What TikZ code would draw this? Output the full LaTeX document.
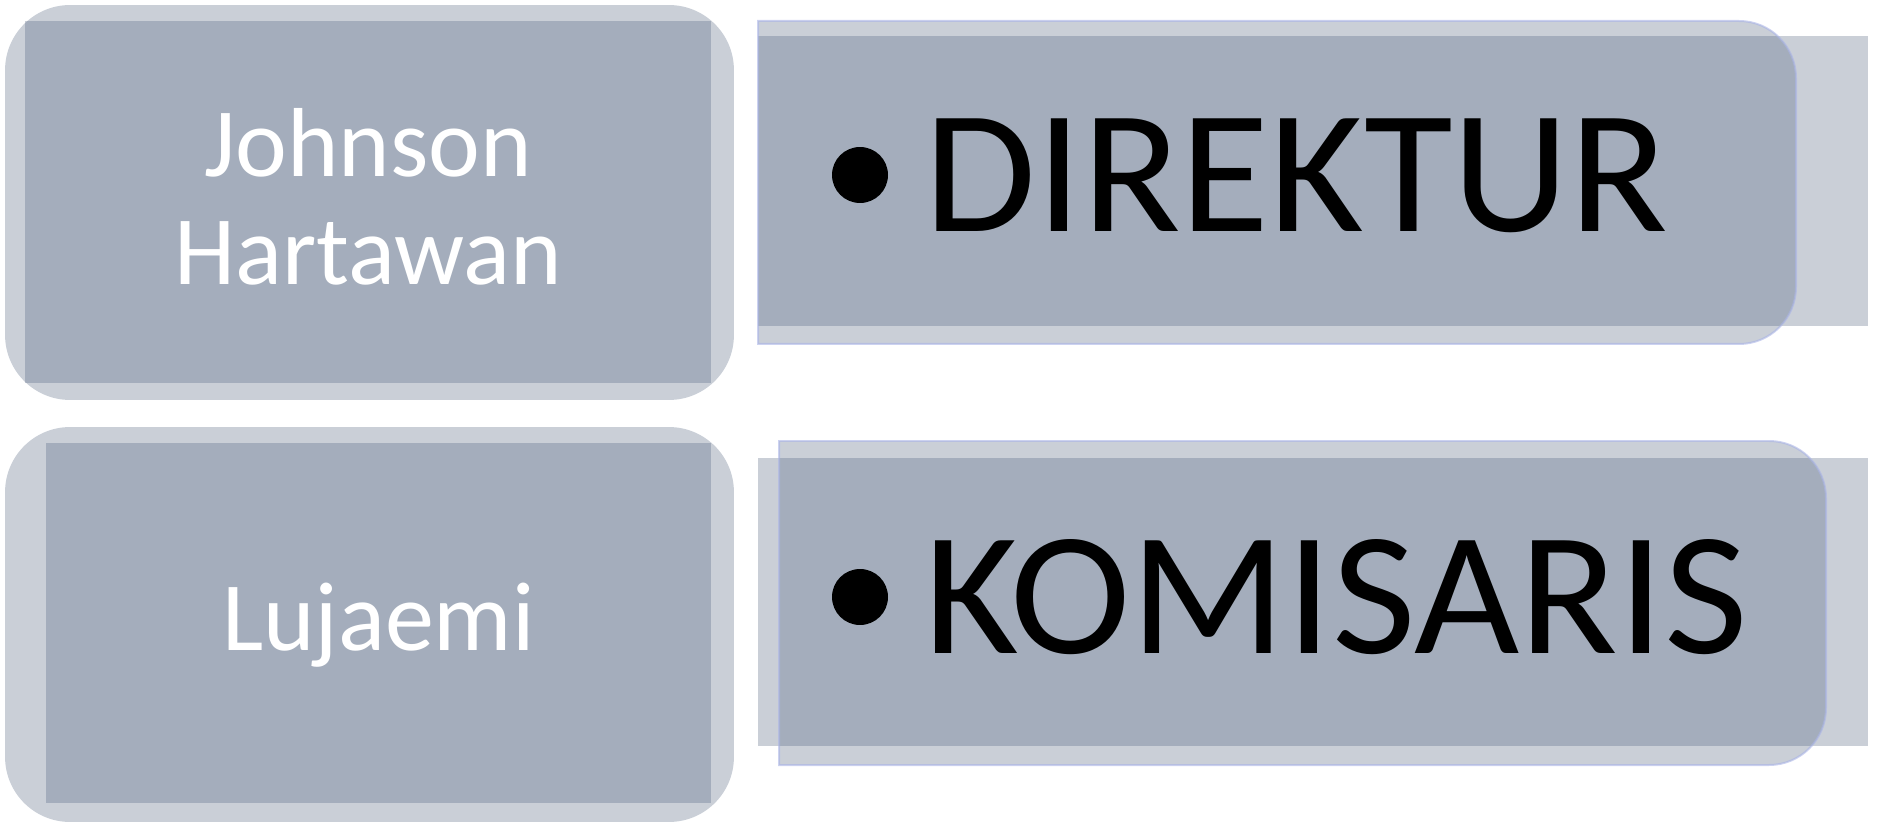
\documentclass[tikz,border=0pt]{standalone}
\usepackage{fontspec}
\setmainfont{Carlito}
\newfontfamily\rolefont{Carlito}[FakeStretch=1.035]
\usetikzlibrary{calc,positioning}
\definecolor{slate}{RGB}{78,96,124}
\definecolor{edgeblue}{RGB}{170,180,230}

\begin{document}
\begin{tikzpicture}[
        x=0.02cm, y=0.02cm, % one unit = one pixel of the layout
        pane/.style={rectangle, fill=slate, fill opacity=0.3, draw=none, inner sep=0pt},
        namecard/.style={pane, rounded corners=1.3cm},
        tabshape/.style={fill=slate, fill opacity=0.3, draw=edgeblue, draw opacity=0.6, line width=0.04cm},
        personname/.style={text=white, font=\fontsize{55.8pt}{62pt}\selectfont, align=center},
        roletitle/.style={text=black, font=\rolefont\fontsize{100pt}{110pt}\selectfont, anchor=base west, inner sep=0pt},
        bulletdot/.style={circle, fill=black, minimum size=1.12cm, inner sep=0pt}
    ]
    \useasboundingbox (0,0) rectangle (1900,-827);

    % left column: names
    \node[namecard, minimum width=14.58cm, minimum height=7.9cm] (card1) at (369.5,-202.5) {};
    \node[pane, minimum width=13.72cm, minimum height=7.24cm] (face1) at (368,-202) {};
    \node[personname, anchor=base] (johnson) at (368,-285) {Johnson\\Hartawan}; % base = last line

    \node[namecard, minimum width=14.58cm, minimum height=7.9cm] (card2) at (369.5,-624.5) {};
    \node[pane, minimum width=13.3cm, minimum height=7.2cm] (face2) at (378.5,-623) {};
    \node[personname, anchor=base] (lujaemi) at (378.5,-650) {Lujaemi};

    % right column: positions
    \node[pane, minimum width=22.2cm, minimum height=5.8cm] (band1) at (1313,-181) {};
    \draw[tabshape] (758,-21) -- (1739,-21) arc (90:0:57) -- (1796,-287) arc (0:-90:57) -- (758,-344) -- cycle;
    \node[roletitle] (direktur) at (924,-232) {DIREKTUR};
    \node[bulletdot] (dot1) at ($(direktur.base west)+(-64,57)$) {};

    \node[pane, minimum width=22.2cm, minimum height=5.76cm] (band2) at (1313,-602) {};
    \draw[tabshape] (779,-441) -- (1769,-441) arc (90:0:57) -- (1826,-708) arc (0:-90:57) -- (779,-765) -- cycle;
    \node[roletitle] (komisaris) at (924,-653) {KOMISARIS};
    \node[bulletdot] (dot2) at ($(komisaris.base west)+(-64,56)$) {};
\end{tikzpicture}
\end{document}
